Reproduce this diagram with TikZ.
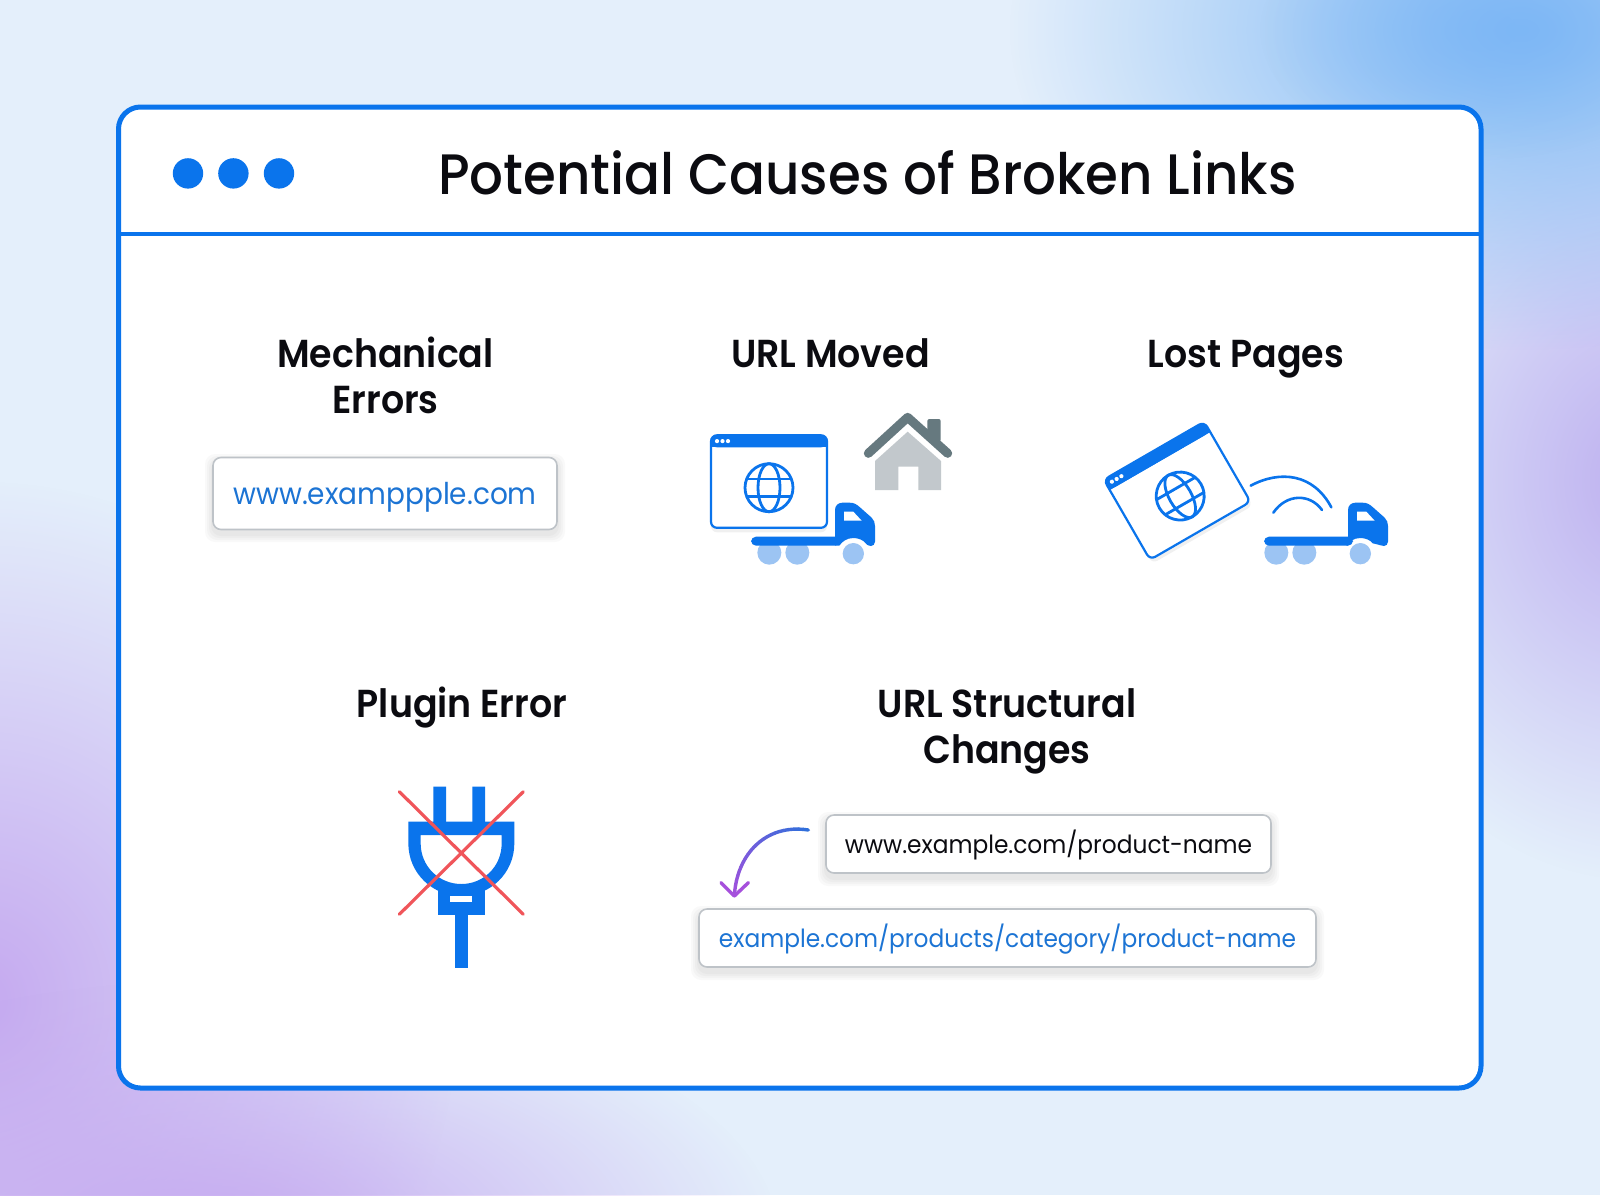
\documentclass[tikz,border=0pt]{standalone}
\usepackage{fontspec}
\setmainfont{Poppins}[UprightFont=* Medium,BoldFont=* SemiBold,FakeStretch=0.932]
\newfontfamily\reg{Poppins}[FakeStretch=0.932]
\usetikzlibrary{fadings,calc}
\definecolor{bgbase}{HTML}{E4EFFB}
\definecolor{brand}{HTML}{0A74EC}
\definecolor{linkb}{HTML}{1C74D4}
\definecolor{wheel}{HTML}{9CC4F3}
\definecolor{roof}{HTML}{66797F}
\definecolor{hbody}{HTML}{C2C8CC}
\definecolor{redx}{HTML}{F0555A}
\definecolor{inkk}{HTML}{0B0B10}
\definecolor{boxedge}{HTML}{BEC3C8}
\definecolor{arrowa}{HTML}{2F6FDB}
\definecolor{arrowb}{HTML}{A650DC}
\tikzset{
 blob/.style={path fading=blobfade},
 heading/.style={font=\fontsize{39}{46}\selectfont\bfseries,text=inkk,align=center,inner sep=0pt},
 urlbox/.style={draw=boxedge,line width=1.6pt,fill=white,rounded corners=8pt,inner sep=0pt},
 pane/.style={draw=brand,line width=2.2pt,fill=white,rounded corners=6pt},
}
\tikzfading[name=blobfade,inner color=transparent!0,outer color=transparent!100]
\newcommand{\softshadow}[4]{%
 \foreach \g in {8,6,4,2}{
  \fill[black,opacity=.025,rounded corners=10pt] (#1-\g,#2-\g+5) rectangle (#3+\g,#4+\g+5);
 }}
\newcommand{\webpane}{%
 \fill[black,opacity=.06,rounded corners=6pt] (-58,-44) rectangle (58,51);
 \draw[pane] (-58,-46) rectangle (58,46.5);
 \fill[brand,rounded corners=6pt] (-58,-46) rectangle (58,-34);
 \fill[brand] (-58,-40) rectangle (58,-34);
 \foreach \dx in {-52,-46.5,-41}{\fill[white] (\dx,-40.2) circle (2.1);}
 \begin{scope}[shift={(0,6.4)},brand,line width=2.8pt]
  \draw (0,0) circle (24);
  \draw (0,0) ellipse (11 and 24);
  \draw (-21.5,-8.7) -- (21.5,-8.7);
  \draw (-21.5,8.7) -- (21.5,8.7);
 \end{scope}}
\newcommand{\truck}[1]{%
 \begin{scope}[x=1pt/3,y=-1pt/3]
 \fill[wheel] (238+#1,458) circle (36) (322+#1,458) circle (36) (490+#1,461) circle (32);
 \fill[brand,rounded corners=5pt] (183,410) rectangle (450,437);
 \fill[brand] (435,437) -- (435,330) .. controls (435,316) and (445,308) .. (458,308) -- (478,308) .. controls (492,308) and (500,313) .. (510,322) -- (545,353) .. controls (552,360) and (555,368) .. (555,378) -- (555,425) .. controls (555,433) and (549,438) .. (543,438) .. controls (535,438) and (530,434) .. (527+#1,430) .. controls (520+#1,420) and (505+#1,414) .. (490+#1,414) .. controls (470+#1,414) and (456+#1,425) .. (448+#1,437) -- cycle;
 \fill[white] (462,335) -- (490,335) -- (515,362) -- (462,362) -- cycle;
 \end{scope}}
\begin{document}
\begin{tikzpicture}[x=1pt,y=-1pt]
\useasboundingbox (0,0) rectangle (1600,1195);
\clip (0,0) rectangle (1600,1195);
% background
\fill[bgbase] (0,0) rectangle (1600,1195);
\fill[blob,color={rgb,255:red,197;green,169;blue,240}] (-20,1000) ellipse (480 and 520);
\fill[blob,color={rgb,255:red,197;green,169;blue,240}] (220,1240) ellipse (560 and 260);
\fill[blob,color={rgb,255:red,190;green,176;blue,240}] (1640,480) ellipse (320 and 400);
\fill[blob,color={rgb,255:red,125;green,183;blue,245}] (1520,30) ellipse (510 and 320);
\fill[blob,color={rgb,255:red,125;green,183;blue,245},opacity=.6] (1480,30) ellipse (220 and 130);
% window
\draw[brand,line width=5pt,fill=white,rounded corners=22pt] (118.5,107) rectangle (1481,1088);
\draw[brand,line width=4.4pt] (118.5,234) -- (1481,234);
\fill[brand] (188,173.4) circle (15.2) (233.4,173.4) circle (15.2) (279,173.4) circle (15.2);
\node[font=\fontsize{57}{66}\selectfont,text=inkk,inner sep=0pt] (title) at (867.5,173) {Potential Causes of Broken Links};
% headings
\node[heading] (h1) at (385.5,375) {Mechanical\\Errors};
\node[heading,anchor=base] (h2) at (830.5,367) {URL Moved};
\node[heading,anchor=base] (h3) at (1246,367) {Lost Pages};
\node[heading,anchor=base] (h4) at (462,717) {Plugin Error};
\node[heading] (h5) at (1007,731) {URL Structural\\Changes};
% url boxes
\softshadow{213}{457}{557}{529}
\node[urlbox,minimum width=344pt,minimum height=72pt,text height=22pt,text depth=0pt,text=linkb,font=\reg\fontsize{30}{34}\selectfont] (b1) at (385,493.5) {www.examppple.com};
\softshadow{826}{815}{1271}{873}
\node[urlbox,minimum width=445pt,minimum height=58pt,text height=18pt,text depth=0pt,text=inkk,font=\reg\fontsize{25}{30}\selectfont] (b2) at (1048.5,844) {www.example.com/product-name};
\softshadow{699}{909}{1316}{967}
\node[urlbox,minimum width=617pt,minimum height=58pt,text height=18pt,text depth=0pt,text=linkb,font=\reg\fontsize{25}{30}\selectfont] (b3) at (1007.5,938) {example.com/products/category/product-name};
% URL moved
\begin{scope}[shift={(769,481.3)}]\webpane\end{scope}
\begin{scope}[shift={(690,400)}]\truck{0}
 \begin{scope}[x=1pt/3,y=-1pt/3]
 \fill[hbody] (555,183) -- (653,95) -- (753,183) -- (753,270) -- (685,270) -- (685,200) -- (625,200) -- (625,270) -- (555,270) -- cycle;
 \fill[roof,rounded corners=2pt] (712,57) rectangle (752,125);
 \draw[roof,line width=9pt,line join=round,line cap=round] (535,160) -- (653,52) -- (773,160);
 \end{scope}
\end{scope}
% Lost pages
\begin{scope}[shift={(1177,490.5)},rotate=30]\webpane\end{scope}
\begin{scope}[shift={(1203,400)}]\truck{-18}\end{scope}
\begin{scope}[shift={(1090,410)},x=1pt/3,y=-1pt/3]
 \draw[brand,line width=2.6pt,line cap=round] (482,227) .. controls (570,180) and (670,190) .. (724,292);
 \draw[brand,line width=2.6pt,line cap=round] (550,308) .. controls (590,250) and (660,250) .. (696,300);
\end{scope}
% plug
\begin{scope}[shift={(380,770)},x=1pt/3,y=-1pt/3]
 \fill[brand] (160,50) rectangle (198,165) (277,50) rectangle (315,165);
 \fill[brand] (173,360) rectangle (315,435);
 \fill[brand] (225,430) rectangle (263,595);
 \fill[brand,even odd rule] (85,155) -- (403,155) -- (403,220) .. controls (403,310) and (330,378) .. (244,378) .. controls (158,378) and (85,310) .. (85,220) -- cycle
 (122,195) -- (365,195) -- (365,220) .. controls (365,290) and (310,342) .. (244,342) .. controls (178,342) and (122,290) .. (122,220) -- cycle;
 \fill[white] (210,378) rectangle (277,397);
 \draw[redx,line width=3.2pt,line cap=round] (58,65) -- (430,433) (430,65) -- (58,433);
\end{scope}
% arrow
\begin{scope}[shift={(690,800)},x=1pt/3,y=-1pt/3]
 \coordinate (as) at (355,90);
 \coordinate (ae) at (133,288);
 \foreach \i in {0,...,23}{
  \pgfmathsetmacro{\ta}{\i/24}
  \pgfmathsetmacro{\tb}{(\i+1)/24}
  \pgfmathsetmacro{\pc}{100*\ta}
  \colorlet{segc}{arrowb!\pc!arrowa}
  \draw[segc,line width=3.4pt,line cap=round]
   ($(as)+({3*(1-\ta)*(1-\ta)*\ta*(230-355)+3*(1-\ta)*\ta*\ta*(140-355)+\ta*\ta*\ta*(133-355)},{3*(1-\ta)*(1-\ta)*\ta*(70-90)+3*(1-\ta)*\ta*\ta*(160-90)+\ta*\ta*\ta*(288-90)})$)
   -- ($(as)+({3*(1-\tb)*(1-\tb)*\tb*(230-355)+3*(1-\tb)*\tb*\tb*(140-355)+\tb*\tb*\tb*(133-355)},{3*(1-\tb)*(1-\tb)*\tb*(70-90)+3*(1-\tb)*\tb*\tb*(160-90)+\tb*\tb*\tb*(288-90)})$);
 }
 \draw[arrowb,line width=3.4pt,line cap=round,line join=round] (93,248) -- (ae) -- (175,248);
\end{scope}
\end{tikzpicture}
\end{document}
